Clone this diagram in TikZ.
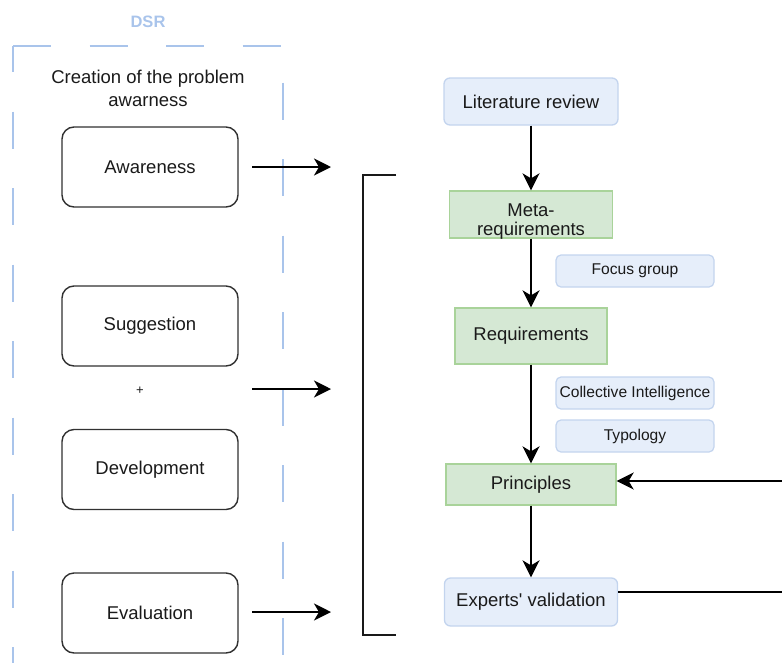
\documentclass[tikz,border=0pt]{standalone}
\usepackage{fontspec}
\setmainfont{Liberation Sans}[Ligatures=TeXOff]
\usetikzlibrary{arrows.meta}
\definecolor{dsrblue}{HTML}{A9C4EB}
\definecolor{bluefill}{HTML}{E6EEFA}
\definecolor{bluedraw}{HTML}{C3D4EE}
\definecolor{greenfill}{HTML}{D5E8D4}
\definecolor{greendraw}{HTML}{A9D39A}
\definecolor{ink}{HTML}{1A1A1A}
\tikzset{
  phasebox/.style={draw=ink!90, line width=1.4pt, fill=white, rounded corners=12pt,
    minimum width=176pt, minimum height=80pt, inner sep=0pt, text=ink,
    font=\fontsize{18.5}{21}\selectfont},
  stepgreen/.style={draw=greendraw, line width=1.3pt, fill=greenfill, inner sep=0pt,
    text=ink, font=\fontsize{18.5}{21}\selectfont},
  stepblue/.style={draw=bluedraw, line width=1.3pt, fill=bluefill, rounded corners=6pt,
    inner sep=0pt, text=ink, font=\fontsize{18.5}{21}\selectfont},
  tagblue/.style={draw=bluedraw, line width=1.2pt, fill=bluefill, rounded corners=5pt,
    inner sep=0pt, minimum width=158pt, minimum height=32pt, text=ink,
    font=\fontsize{15.6}{18}\selectfont},
  arr/.style={draw=black, line width=2.4pt, -{Stealth[length=17pt, width=17pt, inset=5pt]}},
  dsrline/.style={draw=dsrblue, line width=2pt},
  plain/.style={text=ink, inner sep=0pt}
}
\begin{document}
\begin{tikzpicture}[x=1pt, y=-1pt]
\useasboundingbox (0,0) rectangle (782,662);

% DSR frame (dashed, open at the bottom)
\draw[dsrline, dash pattern=on 38pt off 38.5pt] (13,46) -- (283,46);
\draw[dsrline, dash pattern=on 37pt off 39.5pt, dash phase=11pt] (13,46) -- (13,700);
\draw[dsrline, dash pattern=on 37pt off 39.5pt, dash phase=40pt] (283,46) -- (283,700);
\node[plain, text=dsrblue, font=\fontsize{16.5}{19}\selectfont\bfseries] (dsr) at (148,22) {DSR};
\node[plain, align=center, font=\fontsize{18.5}{23}\selectfont] (creation) at (148,88)
  {Creation of the problem\\awarness};

% DSR phases
\node[phasebox] (aware) at (150,167) {Awareness};
\node[phasebox] (sugg) at (150,326) {Suggestion};
\node[plain, font=\fontsize{13}{15}\selectfont] (plus) at (140,391) {+};
\node[phasebox] (dev) at (150,469.5) {Development};
\node[phasebox] (eval) at (150,613) {Evaluation};

% arrows from the phases to the process
\coordinate (a1s) at (252,167);  \coordinate (a1e) at (331,167);
\coordinate (a2s) at (252,389);  \coordinate (a2e) at (331,389);
\coordinate (a3s) at (252,612);  \coordinate (a3e) at (331,612);
\draw[arr] (a1s) -- (a1e);
\draw[arr] (a2s) -- (a2e);
\draw[arr] (a3s) -- (a3e);

% bracket around the process
\coordinate (bt) at (396,175);
\coordinate (bb) at (396,635);
\draw[line width=2.2pt, draw=black!90] (bt) -- (363,175) -- (363,635) -- (bb);

% process steps
\node[stepblue, minimum width=174pt, minimum height=47pt] (lit) at (531,101.5) {Literature review};
\node[stepgreen, minimum width=163pt, minimum height=47pt] (meta) at (531,214.5) {};
\node[plain, align=center, font=\fontsize{18.5}{19}\selectfont] (metatext) at (531,222) {Meta-\\requirements};
\node[stepgreen, minimum width=152pt, minimum height=56pt] (req) at (531,336) {Requirements};
\node[stepgreen, minimum width=170pt, minimum height=41pt] (prin) at (531,484.5) {Principles};
\node[stepblue, minimum width=173pt, minimum height=48pt] (exp) at (531,602) {Experts' validation};

% supporting inputs
\node[tagblue] (focus) at (635,271) {Focus group};
\node[tagblue] (ci) at (635,393) {Collective Intelligence};
\node[tagblue] (typ) at (635,436) {Typology};

% flow
\draw[arr] (lit) -- (meta);
\draw[arr] (meta) -- (req);
\draw[arr] (req) -- (prin);
\draw[arr] (prin) -- (exp);
\draw[arr] ([yshift=10pt]exp.east) -- ++(200,0) |- ([yshift=3.5pt]prin.east);
\end{tikzpicture}
\end{document}
